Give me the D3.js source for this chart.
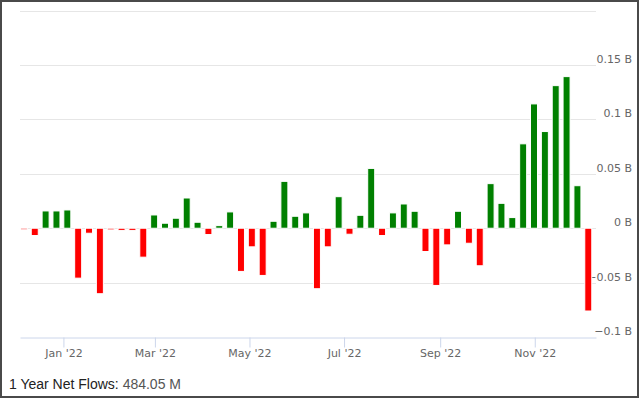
<!DOCTYPE html>
<html>
<head>
<meta charset="utf-8">
<script src="https://cdn.jsdelivr.net/npm/d3@7"></script>
<style>
    html, body { margin: 0; padding: 0; background: #fff; }
    svg { display: block; }
</style>
</head>
<body>
<svg width="640" height="399"></svg>
<script>
// weekly net flows, millions USD
const weeks = [
    "2021-12-06", "2021-12-13", "2021-12-20", "2021-12-27",
    "2022-01-03", "2022-01-10", "2022-01-17", "2022-01-24", "2022-01-31",
    "2022-02-07", "2022-02-14", "2022-02-21", "2022-02-28",
    "2022-03-07", "2022-03-14", "2022-03-21", "2022-03-28",
    "2022-04-04", "2022-04-11", "2022-04-18", "2022-04-25",
    "2022-05-02", "2022-05-09", "2022-05-16", "2022-05-23", "2022-05-30",
    "2022-06-06", "2022-06-13", "2022-06-20", "2022-06-27",
    "2022-07-04", "2022-07-11", "2022-07-18", "2022-07-25",
    "2022-08-01", "2022-08-08", "2022-08-15", "2022-08-22", "2022-08-29",
    "2022-09-05", "2022-09-12", "2022-09-19", "2022-09-26",
    "2022-10-03", "2022-10-10", "2022-10-17", "2022-10-24", "2022-10-31",
    "2022-11-07", "2022-11-14", "2022-11-21", "2022-11-28",
    "2022-12-05"
];

const flows = [
    -1, -6.7, 15.9, 15.9,
    16.8, -45.9, -4.6, -60.2, -1.5,
    -2, -2, -26.6, 12.2,
    4.6, 9.2, 27.8, 5.5,
    -5.8, 2.4, 15, -39.7,
    -17.1, -43.4, 6.4, 43.1, 11,
    14.1, -55.6, -17.1, 29,
    -5.5, 11.9, 55, -6.7,
    14.1, 22.3, 15.6, -21.4, -52.6,
    -15.3, 15.6, -13.8, -34.5,
    41, 22.9, 9.8, 77.6, 114.3,
    88.9, 131.1, 139.4, 39.1,
    -76.1
];

const yTicks = [-100, -50, 0, 50, 100, 150];
const yGrid = [-50, 0, 50, 100, 150, 200];
const footerLabel = "1 Year Net Flows: ";
const footerValue = "484.05 M";

const svg = d3.select("svg"),
    width = +svg.attr("width"),
    height = +svg.attr("height"),
    plotLeft = 20,
    plotRight = 596,
    plotTop = 10.7,
    plotBottom = 337;

const data = weeks.map((w, i) => ({ date: d3.utcParse("%Y-%m-%d")(w), value: flows[i] }));

const scaleX = d3.scaleUtc()
    .domain([Date.UTC(2021, 11, 4), Date.UTC(2022, 11, 10, 12)])
    .range([plotLeft, plotRight]);

const scaleY = d3.scaleLinear()
    .domain([-100, 200])
    .range([plotBottom, plotTop]);

// grid
svg.append("g")
    .selectAll("line")
    .data(yGrid)
    .enter()
    .append("line")
    .attr("x1", plotLeft)
    .attr("x2", plotRight)
    .attr("y1", d => Math.round(scaleY(d)) + 0.5)
    .attr("y2", d => Math.round(scaleY(d)) + 0.5)
    .attr("stroke", "#e6e6e6")
    .attr("stroke-width", 1);

// y labels on the right
svg.append("g")
    .selectAll("text")
    .data(yTicks)
    .enter()
    .append("text")
    .attr("x", 632)
    .attr("y", d => scaleY(d) - 2)
    .attr("text-anchor", "end")
    .style("font-family", "'DejaVu Sans', sans-serif")
    .style("font-size", "11px")
    .style("fill", "#666")
    .text(d => (d === 0 ? "0" : d3.format("")(d / 1000)).replace("-", "\u2212") + " B");

// x axis
const axisX = d3.axisBottom(scaleX)
    .ticks(d3.utcMonth.every(2))
    .tickFormat(d3.utcFormat("%b '%y"))
    .tickSize(10)
    .tickSizeOuter(0);

const gx = svg.append("g")
    .attr("transform", `translate(0, ${plotBottom + 0.5})`)
    .call(axisX);

gx.select(".domain").attr("stroke", "#ccd6eb");
gx.selectAll(".tick line").attr("stroke", "#ccd6eb");
gx.selectAll(".tick text")
    .attr("y", 19.5)
    .attr("dy", 0)
    .style("font-family", "'DejaVu Sans', sans-serif")
    .style("font-size", "11px")
    .style("fill", "#666");

// bars
const barW = 7;
svg.append("g")
    .selectAll("rect")
    .data(data)
    .enter()
    .append("rect")
    .attr("x", d => scaleX(d.date) - barW / 2 + 0.8)
    .attr("y", d => d.value >= 0 ? scaleY(d.value) : scaleY(0))
    .attr("width", barW)
    .attr("height", d => Math.max(1.5, Math.abs(scaleY(d.value) - scaleY(0))))
    .attr("fill", d => d.value >= 0 ? "#008000" : "#ff0000")
    .attr("stroke", "#fff")
    .attr("stroke-width", 1);

// footer
const footer = svg.append("text")
    .attr("x", 9)
    .attr("y", 389)
    .style("font-family", "'Liberation Sans', Arial, sans-serif")
    .style("font-size", "14px");

footer.append("tspan")
    .style("fill", "#222")
    .text(footerLabel);

footer.append("tspan")
    .style("fill", "#555")
    .text(footerValue);

// frame
svg.append("rect")
    .attr("x", 1)
    .attr("y", 1)
    .attr("width", width - 3)
    .attr("height", height - 3)
    .attr("fill", "none")
    .attr("stroke", "#4a4a4a")
    .attr("stroke-width", 2);
</script>
</body>
</html>
